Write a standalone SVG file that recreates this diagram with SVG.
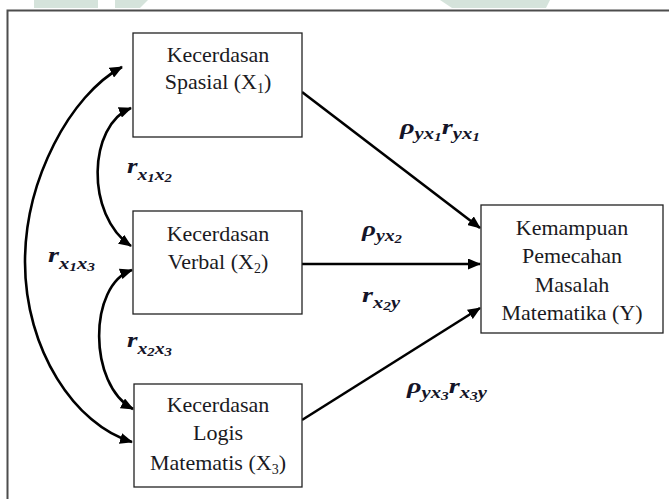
<svg xmlns="http://www.w3.org/2000/svg" width="669" height="499" viewBox="0 0 669 499">
<style>
.box{fill:#fff;stroke:#222;stroke-width:1.3}
.bt{font-family:'Liberation Serif','DejaVu Serif',serif;font-size:22px;fill:#1a1a22;text-anchor:middle}
.sub{font-size:14px}
.lab{font-family:'Liberation Serif','DejaVu Serif',serif;font-weight:bold;font-style:italic;font-size:22px;fill:#141428}
.ls{font-size:16px}
.ld{font-size:12px}
.con{fill:none;stroke:#000;stroke-width:2.6}
.wm{fill:#d5e3db}
</style>
<defs>
<marker id="ah" markerUnits="userSpaceOnUse" markerWidth="13" markerHeight="11" refX="12" refY="5.5" orient="auto-start-reverse">
<path d="M0,0 L13,5.5 L0,11 z" fill="#000"/>
</marker>
</defs>
<rect width="669" height="499" fill="#fff"/>
<g id="watermark">
<rect class="wm" x="34" y="0" width="64" height="8"/>
<path class="wm" d="M115,0 H148 L140,8 H115 z"/>
<path class="wm" d="M440,0 H550 L546,8 H452 z"/>
</g>
<g id="frame" fill="none" stroke="#4d4d4d" stroke-width="2">
<path d="M7.5,499 V10.5 H669"/>
</g>
<g id="connectors">
<path class="con" d="M302,92 L480,228" marker-end="url(#ah)"/>
<path class="con" d="M302,264 L480,264" marker-end="url(#ah)"/>
<path class="con" d="M302,420 L480,308" marker-end="url(#ah)"/>
<path class="con" d="M131,108 C88,125 85,215 131,246" marker-start="url(#ah)" marker-end="url(#ah)"/>
<path class="con" d="M132,270 C88,285 88,385 133,409" marker-start="url(#ah)" marker-end="url(#ah)"/>
<path class="con" d="M122,67 C70,95 25,180 25,262 C25,350 75,425 132,442" marker-start="url(#ah)" marker-end="url(#ah)"/>
</g>
<g id="node-x1">
<rect class="box" x="133" y="33" width="169" height="104"/>
<text class="bt" x="218" y="62">Kecerdasan</text>
<text class="bt" x="218" y="89">Spasial (X<tspan class="sub" dy="4">1</tspan><tspan dy="-4">)</tspan></text>
</g>
<g id="node-x2">
<rect class="box" x="133" y="211" width="169" height="103"/>
<text class="bt" x="218" y="241">Kecerdasan</text>
<text class="bt" x="218" y="269">Verbal (X<tspan class="sub" dy="4">2</tspan><tspan dy="-4">)</tspan></text>
</g>
<g id="node-x3">
<rect class="box" x="134" y="384" width="168" height="103"/>
<text class="bt" x="218" y="412">Kecerdasan</text>
<text class="bt" x="218" y="440">Logis</text>
<text class="bt" x="218" y="470">Matematis (X<tspan class="sub" dy="4">3</tspan><tspan dy="-4">)</tspan></text>
</g>
<g id="node-y">
<rect class="box" x="481" y="205" width="182" height="128"/>
<text class="bt" x="572" y="235">Kemampuan</text>
<text class="bt" x="572" y="263">Pemecahan</text>
<text class="bt" x="572" y="292">Masalah</text>
<text class="bt" x="572" y="320">Matematika (Y)</text>
</g>
<g id="labels">
<text class="lab" x="127" y="173" textLength="45" lengthAdjust="spacingAndGlyphs">r<tspan class="ls" dy="7">x</tspan><tspan class="ld" dy="2">1</tspan><tspan class="ls" dy="-2">x</tspan><tspan class="ld" dy="2">2</tspan></text>
<text class="lab" x="48" y="262" textLength="47" lengthAdjust="spacingAndGlyphs">r<tspan class="ls" dy="7">x</tspan><tspan class="ld" dy="2">1</tspan><tspan class="ls" dy="-2">x</tspan><tspan class="ld" dy="2">3</tspan></text>
<text class="lab" x="127" y="347" textLength="45" lengthAdjust="spacingAndGlyphs">r<tspan class="ls" dy="7">x</tspan><tspan class="ld" dy="2">2</tspan><tspan class="ls" dy="-2">x</tspan><tspan class="ld" dy="2">3</tspan></text>
<text class="lab" x="400" y="134" textLength="80" lengthAdjust="spacingAndGlyphs">ρ<tspan class="ls" dy="5">yx</tspan><tspan class="ld" dy="2">1</tspan><tspan dy="-7">r</tspan><tspan class="ls" dy="5">yx</tspan><tspan class="ld" dy="2">1</tspan></text>
<text class="lab" x="362" y="236" textLength="40" lengthAdjust="spacingAndGlyphs">ρ<tspan class="ls" dy="5">yx</tspan><tspan class="ld" dy="2">2</tspan></text>
<text class="lab" x="362" y="302" textLength="38" lengthAdjust="spacingAndGlyphs">r<tspan class="ls" dy="6">x</tspan><tspan class="ld" dy="2">2</tspan><tspan class="ls" dy="-2">y</tspan></text>
<text class="lab" x="407" y="393" textLength="80" lengthAdjust="spacingAndGlyphs">ρ<tspan class="ls" dy="5">yx</tspan><tspan class="ld" dy="2">3</tspan><tspan dy="-7">r</tspan><tspan class="ls" dy="5">x</tspan><tspan class="ld" dy="2">3</tspan><tspan class="ls" dy="-2">y</tspan></text>
</g>
</svg>
